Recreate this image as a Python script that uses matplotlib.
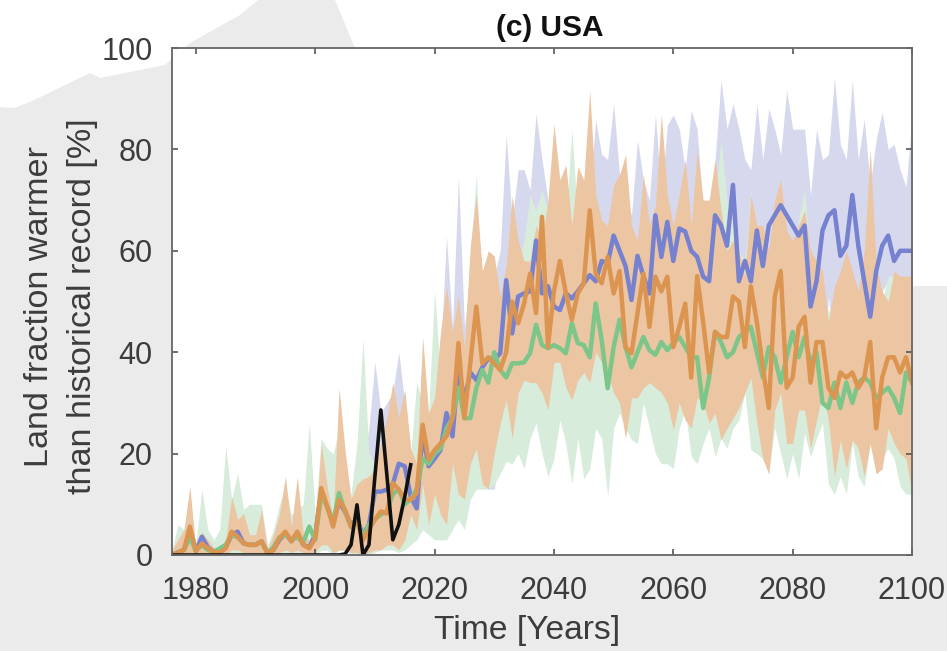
import numpy as np
import matplotlib
matplotlib.use("Agg")
import matplotlib.pyplot as plt
from matplotlib.patches import Polygon

plt.rcParams['font.family'] = ['Liberation Sans', 'DejaVu Sans']

years = list(range(1976, 2101))
obs_years = list(range(1976, 2017))

blue_mean = [0,0.5,1,4.5,
 0.8,3.6,1.5,0.6,0.5,1.5,4,4.6,2.3,2,
 2,2.7,0.4,1,3,4.3,2.7,4.3,2,1.5,
 4,12.5,9.5,6.5,10.5,8.5,6,7,4,6,
 12.5,12.5,12.9,14,18,17.5,11.5,9.2,24,17.5,
 19,20.7,28,23.4,37,30.6,36,34.5,37,38.8,
 38.5,39.8,54.2,43.7,51,51.6,52,62,51.6,53,
 49,48.3,51.6,50.6,52,53.6,55.2,54,58,57.5,
 63,60,57,50.3,59,55,51.6,67,58.8,65.7,
 58,64.4,63.8,60,58.8,54.9,54,67,65,61,
 73,54,58,54,64,57,65,67,69,67,
 65,63,65,49,54,64,67,68,59,61,
 71,61,54,47,56,61,63,58,60,60,
 60]
green_mean = [0,0.5,1,3.5,
 0.8,2,1,0.6,1.3,2,4,3.5,2.3,2,
 2,2.7,0.4,1.5,3.5,4,3,3.5,2.5,5.6,
 3,12,9.5,6.5,12.2,8.5,5.5,7,3.5,6,
 7,8,8.5,12,13,10,11,13,19,18,
 20,21,25,27,33,27,27,33,36.5,34,
 40,36.5,35,37.8,37.8,38,39.8,45.4,41.4,40.8,
 41.4,40.8,39.8,45.7,41.8,41.4,39,49.6,42.4,32.9,
 41,46.4,41,37,40,43,40.4,39.5,42,40.4,
 41.8,43,41,39,39,29,35,44,42,39,
 40,43,44,45,40,35,41,39,34,39,
 44,39,43,38,40,30,29,34,29,34,
 30,34,35,34,31,32,33,31,28,36,
 34]
orange_mean = [0,0.5,1,5.6,
 0.8,2.3,1.3,0.6,0.5,1.3,4.6,3.6,2.3,2,
 2,2.7,0.4,1,3.3,4.6,2.7,4.6,2,1.3,
 3.3,13.2,9.6,5.6,10.9,8.9,5.6,6.6,3,5,
 7,8.6,8.2,14.2,12.9,10.9,10.9,12.2,25.7,18.8,
 20.7,22,23.4,27,41.8,27,38,49,37.8,39,
 37.8,36.5,40,50,45.7,49.6,55.5,47.7,66.7,41,
 52,58,51.6,46.4,51.6,53.6,68,55.5,53.6,58.8,
 51.6,56,41,39.8,47.7,55.5,45,54.9,52,54.9,
 41,45,49.6,35,55,46,36,44,43,43,
 51,50,41,53,46,37,29,51,56,33,
 35,45,47,34,42,42,33,31,36,35,
 36,33,35,42,25,35,39,39,36,39,
 34]

blue_upper = [1,3,4,8,
 1,8,3,2,2,4,8,7,6,3,
 3,6,1,3,6,12,6,10,4,8,
 5,18,14,10,22,16,10,14,18,25,
 38,28,30,32,40,30,20,15,35,25,
 28,40,62.8,45,74.6,45,55,60,50,55,
 55,60,83,66,76,76,72,87,78,70,
 66,64,62,66,68,68,72,85.8,79,78,
 89,75,71,67,81.8,74,70,86.8,71,84.8,
 86.8,84,76,87.7,84,68,68,78,93.7,84,
 89,84,78,76,89,78,88,84,79,91.7,
 84,84,84,71,84,78,79,94,81,78,
 93.7,78,86,73,82,87.4,80,81,76,72.6,
 86]
blue_lower = [0,0,0,0,
 0,0,0,0,0,0,0.5,0.5,0,0,
 0,0,0,0,0,0.5,0,0.5,0,0,
 0,1,1,0,1,1,0,0,0,0.5,
 1,1,2,2,2,2,3,3,6,8,
 8,8,10,12,14,12,20,16,14,13,
 13,20,22,24,26,25,28,30,28,30,
 34,32,32,32,34,34,35,38,36,34,
 34,32,30,32,26,30,32,32,30,28,
 28,30,30,30,33,32,30,32,32,33,
 34,32,34,32,30,32,30,32,33,34,
 33,32,32,32,36,34,51,40,36,40,
 50,48,46,45,48,52,54,50,50,52,
 54]
green_upper = [1,6,5,8,
 2,13,5,3,5,21.4,11,16,9,10,
 10,10,2,5,10,13,8,9,10,26,
 8,23,21,20,25,14,12,22,42.7,20,
 18,18,20,25,25,20,20,34,30,28,
 52,35,50,40,50,40,60,75,50,55,
 54,50,50,65,58,62,71,68,72,68,
 60,65,66,84,66,60,60,66,62,55,
 60,60,60,55,60,58,55,56,57,58,
 60,60,62,58,66,55,56,70,82,70,
 65,60,58,72,60,58,55,58,62,60,
 55,66,72,58,55,50,48,50,48,52,
 52,50,50,50,46,50,55,55,50,52,
 52]
green_lower = [0,0,0,0,
 0,0,0,0,0,0,0.5,0.5,0,0,
 0,0,0,0,0,0.5,0,0.5,0,0,
 0,1,1,0,1,1,0,0,0,0,
 0.5,1,1,1,0.5,1,2,3,5,4,
 3,3,3,5,7,5,11,13,13,13,
 14,16,18.5,18,20,17,23,26,20,15.5,
 19,26.6,22,14,23,15,17,25,23,11.5,
 25,28,25,22.7,22,30,25,20,18,18,
 17,25,28.6,19.4,18,22,25,19.4,23,21,
 25,26.6,32,20.7,20,19,16,25,20,15,
 20,15,24,19.4,23,26,14,12,15.5,12,
 22,15.5,13.5,22,16,19,21,19,13.5,12,
 12]
orange_upper = [1,3,5,13.5,
 1,4.5,3,1.5,1,3,11.5,7,8.2,4,
 4,8.9,1,4,8,15.5,5.5,15.5,4,3,
 4,22,13.5,7,33,20.7,11,14,15,15.5,
 17,22,27,34,27,32.6,21,18,43,28,
 31,44,53,44,51,41,61,71,56,60,
 59,51,57,70.7,62,58,58,65,62,70,
 85,74,77,65,76.6,74,91.7,71,66,65,
 73,75,79,65,62,75,65,69,87,71,
 65,71,78,65,80,70,70,78,68,60,
 62,60,55,71,65,65,60,70,74,64,
 62,65,68,60,58,56,46,53,56,60,
 56,52,60,80,57,52,50,56,55,55,
 55]
orange_lower = [0,0,0,0,
 0,0,0,0,0,0,1,1,0.5,0.5,
 0.5,0.5,0,0,0.5,1,0.5,1,0.5,0,
 0.5,2,2,0.5,1,1,0.5,0.5,0,0.5,
 1,1,2,2,1,3,8,5,14,6,
 12,8,6,18,12,11,18,21,14,13,
 20,26,30.6,23,32,34.5,34,34,32,28.6,
 38,38,33,30.6,34.5,36,34,40,38,36,
 32,30,23,31,31,33,34,33,32,30,
 24.7,30,26.6,25,31,30,26,28,22.7,25,
 27,29,32,35,26,19,16,28.6,32,22,
 22,28.6,28.6,21,26.6,32,26.6,15.5,22.7,17,
 22.7,21,15.5,22,16,17,25,22,20,19,
 12]
observed = [0]*29 + [0.2,2,9.9,0,2,15.5,28.6,15.8,3,6,11.5,17.8]

x_ticks = [1980,2000,2020,2040,2060,2080,2100]
y_ticks = [0,20,40,60,80,100]
title = "(c) USA"
xlabel = "Time [Years]"
ylabel = "Land fraction warmer\nthan historical record [%]"

W, H = 947, 651
fig = plt.figure(figsize=(W/100, H/100), dpi=100, facecolor='white')

bg = fig.add_axes([0, 0, 1, 1], zorder=0)
bg.set_xlim(0, W); bg.set_ylim(H, 0); bg.axis('off')
bg.add_patch(Polygon([(0,107),(14,108),(30,102),(90,73),(100,78),(165,65),(190,43),
                      (240,15),(258,0),(335,0),(355,48),(912,48),(912,286),(947,286),
                      (947,651),(0,651)], closed=True, fc='#ebebeb', ec='none'))

L, R, T, B = 172, 912, 48, 555
ax = fig.add_axes([L/W, 1-B/H, (R-L)/W, (B-T)/H], zorder=1, facecolor='white')

c_blue, c_green, c_orange = '#7681cf', '#7cc68a', '#dc9550'
ax.fill_between(years, blue_lower, blue_upper, color='#d6d8ee', lw=0)
ax.fill_between(years, green_lower, green_upper, color='#d8ecdb', lw=0)
ax.fill_between(years, orange_lower, orange_upper, color='#ecc5a3', lw=0)
ax.plot(years, blue_mean, color=c_blue, lw=3.2, solid_joinstyle='round')
ax.plot(years, green_mean, color=c_green, lw=3.2, solid_joinstyle='round')
ax.plot(years, orange_mean, color=c_orange, lw=3.2, solid_joinstyle='round')
ax.plot(obs_years, observed, color='#111111', lw=2.6, solid_joinstyle='round')

ax.set_xlim(1976, 2100)
ax.set_ylim(0, 100)
ax.set_xticks(x_ticks)
ax.set_yticks(y_ticks)
ax.tick_params(direction='in', length=4.5, width=1.2, color='#555555', top=True, right=True,
               labelsize=22, labelcolor='#3c3c3c')
ax.tick_params(axis='x', pad=15)
ax.tick_params(axis='y', pad=14)
for s in ax.spines.values():
    s.set_color('#666666'); s.set_linewidth(1.3)

ax.set_title(title, fontsize=21.5, fontweight='bold', color='#111111', x=0.51, pad=9)
ax.set_xlabel(xlabel, fontsize=24.2, color='#3c3c3c')
ax.xaxis.set_label_coords(0.48, -0.118)
ax.set_ylabel(ylabel, fontsize=24.6, color='#3c3c3c', linespacing=1.5)
ax.yaxis.set_label_coords(-0.1, 0.491)

fig.savefig('out.png', dpi=100, facecolor=fig.get_facecolor())
